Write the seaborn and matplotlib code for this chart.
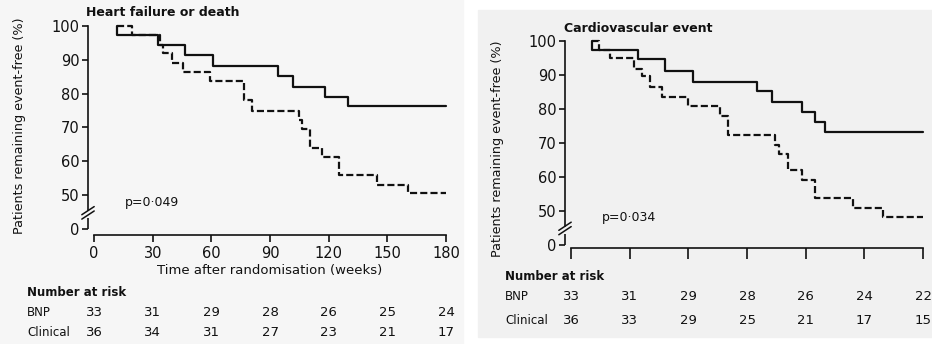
import matplotlib
matplotlib.use("Agg")
import matplotlib.pyplot as plt
import matplotlib.transforms as mtransforms
from matplotlib.patches import Rectangle
import seaborn as sns

# ---------------- data ----------------
week_ticks = [0, 30, 60, 90, 120, 150, 180]
y_tick_pos = [40, 50, 60, 70, 80, 90, 100]
y_tick_labels = ["0", "50", "60", "70", "80", "90", "100"]

# Heart failure or death
hf_bnp_t = [12, 12, 32.5, 46.5, 61, 94.2, 101.9, 118.1, 130, 180]
hf_bnp_s = [100, 97.3, 94.3, 91.4, 88.3, 85.3, 82.1, 79.1, 76.3, 76.3]
hf_clin_t = [12, 19.3, 33.5, 35.4, 40, 45.7, 59.3, 76.8, 80.6, 104.8, 106.5,
             110.4, 116.4, 125.4, 144.5, 160.4, 180]
hf_clin_s = [100, 97.2, 94.4, 91.9, 89.0, 86.3, 83.6, 78.0, 75.0, 72.2, 69.4,
             63.9, 61.2, 55.9, 53.0, 50.5, 50.5]

# Cardiovascular event
cv_bnp_t = [10.9, 10.9, 34.4, 48, 62.2, 94.9, 102.9, 118.2, 124.7, 130, 180]
cv_bnp_s = [100, 97.3, 94.5, 91.2, 87.9, 85.2, 81.9, 79.1, 76.2, 73.2, 73.2]
cv_clin_t = [10.9, 14.5, 19.9, 32.2, 36.1, 40.4, 46.3, 59.9, 76.1, 80.4, 104.2,
             106.5, 111, 117.9, 124.7, 144.3, 159.6, 180]
cv_clin_s = [100, 97.3, 94.8, 91.7, 89.5, 86.3, 83.5, 80.8, 77.8, 72.3, 69.4,
             66.7, 62.0, 59.0, 53.7, 50.7, 48.1, 48.1]

risk_rows = ["BNP", "Clinical"]
hf_risk_bnp = [33, 31, 29, 28, 26, 25, 24]
hf_risk_clin = [36, 34, 31, 27, 23, 21, 17]
cv_risk_bnp = [33, 31, 29, 28, 26, 24, 22]
cv_risk_clin = [36, 33, 29, 25, 21, 17, 15]

titles = ["Heart failure or death", "Cardiovascular event"]
pvalues = ["p=0·049", "p=0·034"]
ylabel = "Patients remaining event-free (%)"
xlabel = "Time after randomisation (weeks)"

# ---------------- styling ----------------
sns.set_theme(style="ticks")
plt.rcParams['font.family'] = ['DejaVu Sans']
plt.rcParams['axes.edgecolor'] = '#111111'
plt.rcParams['xtick.color'] = '#111111'
plt.rcParams['ytick.color'] = '#111111'
plt.rcParams['text.color'] = '#111111'

W, H = 932, 344
fig = plt.figure(figsize=(W / 100, H / 100), dpi=100, facecolor='white')
fig.patches.append(Rectangle((0, 0), 463 / W, 1, transform=fig.transFigure,
                             color='#f6f6f6', zorder=-10))
fig.patches.append(Rectangle((478 / W, (H - 337) / H), (W - 478) / W, (337 - 10) / H,
                             transform=fig.transFigure, color='#f1f1f1', zorder=-10))


def px_axes(left, top, right, bottom):
    return fig.add_axes([left / W, (H - bottom) / H, (right - left) / W, (bottom - top) / H])


def panel(ax, bnp_t, bnp_s, clin_t, clin_s, ylim_low, pval, show_xlab, xtick_len):
    sns.lineplot(x=bnp_t, y=bnp_s, ax=ax, color='#111111', lw=1.6,
                 drawstyle='steps-post', estimator=None, sort=False)
    sns.lineplot(x=clin_t, y=clin_s, ax=ax, color='#111111', lw=1.6,
                 linestyle=(0, (3.2, 1.4)), drawstyle='steps-post',
                 estimator=None, sort=False)
    ax.set_facecolor('none')
    ax.set_xlim(-3.07, 183)
    ax.set_ylim(ylim_low, 101.5)
    ax.set_xticks(week_ticks)
    ax.set_yticks(y_tick_pos)
    ax.set_yticklabels(y_tick_labels)
    if show_xlab:
        ax.set_xticklabels([str(w) for w in week_ticks])
    else:
        ax.set_xticklabels([])
    for s in ['top', 'right']:
        ax.spines[s].set_visible(False)
    ax.spines['left'].set_linewidth(1.2)
    ax.spines['bottom'].set_linewidth(1.2)
    ax.spines['left'].set_bounds(45.6, 100)
    ax.spines['bottom'].set_bounds(0, 180)
    ax.tick_params(axis='y', length=4, width=1.2, pad=2, labelsize=10.5)
    ax.tick_params(axis='x', length=xtick_len, width=1.2, pad=3, labelsize=10.5)
    ax.set_xlabel("")
    ax.set_ylabel("")
    # lower piece of the broken y axis and break marks
    yt = ax.get_yaxis_transform()
    ax.plot([0, 0], [40, 43.2], transform=yt, color='#111111', lw=1.2,
            clip_on=False, solid_capstyle='butt')
    for off in (0.0, 1.3):
        ax.plot([-0.017, 0.017], [42.9 + off, 45.3 + off], transform=yt,
                color='#111111', lw=1.1, clip_on=False)
    ax.text(15.8, 47.9, pval, fontsize=9, ha='left', va='center')


# left panel
axL = px_axes(88, 20.9, 452, 235)
panel(axL, hf_bnp_t, hf_bnp_s, hf_clin_t, hf_clin_s, 38.2, pvalues[0], True, 5)
# right panel
axR = px_axes(565, 35.6, 929, 248)
panel(axR, cv_bnp_t, cv_bnp_s, cv_clin_t, cv_clin_s, 39.0, pvalues[1], False, 8)

# titles
fig.text(86 / W, (H - 12) / H, titles[0], fontsize=9, fontweight='bold',
         ha='left', va='center')
fig.text(564 / W, (H - 28) / H, titles[1], fontsize=9, fontweight='bold',
         ha='left', va='center')
# y labels
fig.text(20 / W, (H - 126) / H, ylabel, fontsize=9.2, rotation=90,
         ha='center', va='center')
fig.text(498 / W, (H - 149) / H, ylabel, fontsize=9.2, rotation=90,
         ha='center', va='center')
# x label (left only)
fig.text(270 / W, (H - 270.5) / H, xlabel, fontsize=9.5, ha='center', va='center')


def risk_table(ax, label_x_px, y_head, y_rows, bnp, clin):
    tr = mtransforms.blended_transform_factory(ax.transData, fig.transFigure)
    fig.text(label_x_px / W, (H - y_head) / H, "Number at risk", fontsize=8.5,
             fontweight='bold', ha='left', va='center')
    for name, yy, vals in zip(risk_rows, y_rows, [bnp, clin]):
        fig.text(label_x_px / W, (H - yy) / H, name, fontsize=8.5,
                 ha='left', va='center')
        for w, v in zip(week_ticks, vals):
            ax.text(w, (H - yy) / H, str(v), transform=tr, fontsize=9.5,
                    ha='center', va='center', clip_on=False)


risk_table(axL, 27, 293, [313, 333], hf_risk_bnp, hf_risk_clin)
risk_table(axR, 505, 277, [297, 320], cv_risk_bnp, cv_risk_clin)

fig.savefig("out.png", dpi=100, facecolor=fig.get_facecolor())
